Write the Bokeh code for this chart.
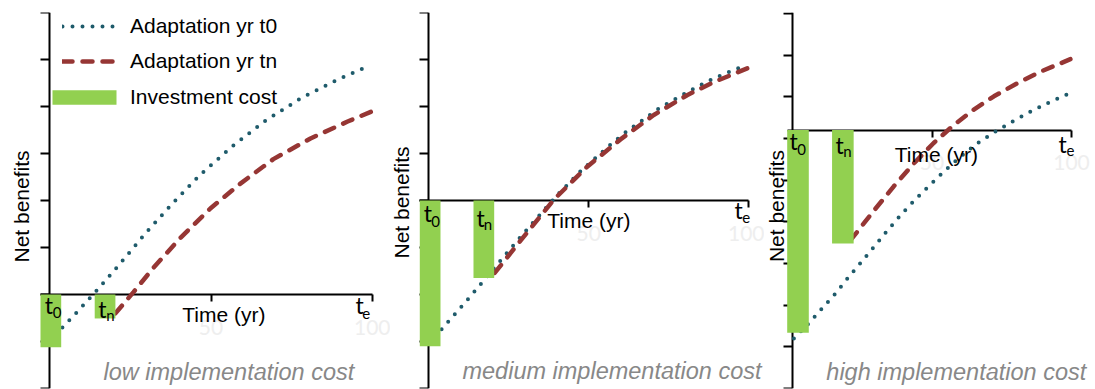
import math
from bokeh.plotting import figure
from bokeh.layouts import row
from bokeh.models import FixedTicker, Range1d, Legend, LegendItem
from bokeh.core.properties import value
from bokeh.embed import file_html
from bokeh.resources import INLINE

# ---------------- data ----------------
# Panel 1: low implementation cost
P1_T0_YR = [4.0, 8.7, 15.2, 21.4, 29.7, 38.1, 46.7, 56.7, 66.9, 77.7, 89.2, 97.8]
P1_T0_NB = [-0.70, -0.36, 0.13, 0.62, 1.30, 1.94, 2.55, 3.16, 3.70, 4.17, 4.57, 4.83]
P1_TN_YR = [20.4, 26.0, 32.2, 40.6, 49.8, 59.1, 69.3, 80.8, 92.3, 100.0]
P1_TN_NB = [-0.40, 0.05, 0.57, 1.21, 1.83, 2.36, 2.88, 3.32, 3.68, 3.90]
P1_BAR_YR = [0.42, 17.2]
P1_BAR_COST = [1.12, 0.51]

# Panel 2: medium implementation cost
P2_T0_YR = [4.0, 8.9, 13.0, 17.2, 21.4, 26.6, 35.9, 40.1, 47.4, 56.8, 62.0, 72.4, 82.8, 89.1, 99.0]
P2_T0_NB = [-2.74, -2.36, -2.04, -1.70, -1.36, -0.94, -0.21, 0.11, 0.62, 1.19, 1.48, 1.98, 2.38, 2.60, 2.88]
P2_TN_YR = [20.6, 28.6, 39.1, 49.5, 59.9, 70.3, 80.7, 89.1, 99.5]
P2_TN_NB = [-1.54, -0.86, 0.02, 0.72, 1.30, 1.82, 2.24, 2.52, 2.81]
P2_BAR_YR = [0.42, 17.2]
P2_BAR_COST = [3.10, 1.65]

# Panel 3: high implementation cost
P3_T0_YR = [0.5, 5.8, 10.6, 15.4, 20.2, 25.0, 29.7, 33.9, 39.3, 44.1, 49.5, 54.8,
            60.2, 66.2, 72.2, 78.7, 85.3, 91.9, 98.5]
P3_T0_NB = [-5.0, -4.64, -4.28, -3.92, -3.52, -3.14, -2.76, -2.42, -2.00, -1.66, -1.30,
            -0.96, -0.64, -0.32, -0.06, 0.20, 0.44, 0.66, 0.86]
P3_TN_YR = [20.8, 23.2, 29.1, 36.3, 43.5, 50.6, 57.8, 65.0, 72.2, 80.5, 88.9, 99.6]
P3_TN_NB = [-2.64, -2.44, -1.94, -1.35, -0.80, -0.31, 0.12, 0.49, 0.81, 1.12, 1.40, 1.70]
P3_BAR_YR = [1.97, 18.05]
P3_BAR_COST = [4.86, 2.72]

X_TICKS = [50, 100]
X_TICK_LABELS = {50: "50", 100: "100"}
PANEL_TITLES = ["low implementation cost", "medium implementation cost", "high implementation cost"]
LEGEND_LABELS = ["Adaptation yr t0", "Adaptation yr tn", "Investment cost"]
Y_LABEL = "Net benefits"
X_LABEL = "Time (yr)"

TEAL = "#1f5b6b"
RED = "#963634"
GREEN = "#92d050"
GREY = "#888888"
FAINT = "#eeeeee"

ARIAL = "Liberation Sans"
CAL = "Lato"
BL = 0.27  # baseline correction (fraction of font size)


def panel(left_px, right_px, axis_px, zero_px, xs, ys, y_lo, y_hi, y_ticks, bar_left,
          t0x, t0y, tnx, tny, barx, barc, bar_px, lab, title):
    """Pixel geometry values are page positions; they only set up the scales."""
    width = right_px - left_px
    x0 = (left_px - axis_px) / xs
    x1 = (right_px - axis_px) / xs
    fx = lambda px: (px - axis_px) / xs
    fy = lambda py: (zero_px - py) / ys

    p = figure(width=width, height=389, output_backend="svg", toolbar_location=None,
               x_range=Range1d(x0, x1), y_range=Range1d(y_lo, y_hi),
               min_border_left=0, min_border_right=0, min_border_top=12, min_border_bottom=1)
    p.outline_line_color = None
    p.grid.visible = False
    p.background_fill_color = "white"
    p.border_fill_color = "white"

    # axes crossing at zero
    p.xaxis.fixed_location = 0
    p.yaxis.fixed_location = 0
    p.xaxis.bounds = (bar_left, 100)
    for ax in (p.xaxis, p.yaxis):
        ax.axis_line_width = 2
        ax.axis_line_color = "black"
        ax.major_tick_line_width = 2
        ax.major_tick_line_color = "black"
        ax.minor_tick_line_width = 2
        ax.minor_tick_line_color = "black"
        ax.major_tick_in = 0
        ax.minor_tick_in = 0
    p.xaxis.ticker = FixedTicker(ticks=X_TICKS)
    p.xaxis.major_label_overrides = X_TICK_LABELS
    p.xaxis.major_tick_out = 7
    p.xaxis.minor_tick_out = 0
    p.xaxis.major_label_text_font = CAL
    p.xaxis.major_label_text_font_size = "21px"
    p.xaxis.major_label_text_color = FAINT
    p.xaxis.major_label_standoff = 18
    # y ticks without labels: minor ticks only
    p.yaxis.ticker = FixedTicker(ticks=[], minor_ticks=y_ticks)
    p.yaxis.minor_tick_out = 9
    p.yaxis.major_tick_out = 0

    r0 = p.line(t0x, t0y, line_color=TEAL, line_width=4, line_dash="0 10", line_cap="round",
                level="annotation")
    rn = p.line(tnx, tny, line_color=RED, line_width=4.5, line_dash="10 10", line_cap="round",
                level="annotation")
    rb = p.vbar(x=barx, width=bar_px / xs, top=0, bottom=[-c for c in barc], fill_color=GREEN,
                line_color=None, level="overlay")

    def txt(px, py, s, font, size, color="black", align="left", style="normal", angle=0.0):
        corr = BL * size
        if angle:
            x, y = fx(px - corr), fy(py)
        else:
            x, y = fx(px), fy(py - corr)
        p.text(x=[x], y=[y], text=[s], text_font=value(font), text_font_size=value(f"{size}px"),
               text_color=color, text_align=align, text_baseline="alphabetic",
               text_font_style=style, angle=angle, level="overlay")

    for (tpx, tpy, spx, spy, sub) in lab["t"]:
        txt(tpx, tpy, "t", CAL, 23)
        txt(spx, spy, sub, CAL, 15)
    txt(*lab["time"], X_LABEL, ARIAL, 21, align="center")
    txt(*lab["title"], title, ARIAL, 23.5, color=GREY, align="center", style="italic")
    txt(*lab["ylab"], Y_LABEL, ARIAL, 21, align="center", angle=math.pi / 2)
    return p, r0, rn, rb


p1, a, b, c = panel(0, 390, 49, 294, 3.23, 47, -2, 6, list(range(-2, 7)), -2.8,
                    P1_T0_YR, P1_T0_NB, P1_TN_YR, P1_TN_NB, P1_BAR_YR, P1_BAR_COST, 20.7,
                    {"t": [(44.3, 311, 52.3, 315.7, "0"), (97.7, 315, 105.7, 318.3, "n"),
                           (355, 311, 361.7, 316.7, "e")],
                     "time": (223.4, 319.3), "title": (228.4, 378.3), "ylab": (27, 206)},
                    PANEL_TITLES[0])

leg_lines = Legend(items=[LegendItem(label=LEGEND_LABELS[0], renderers=[a]),
                          LegendItem(label=LEGEND_LABELS[1], renderers=[b])],
                   location=(62, 315), padding=0, margin=0, spacing=11,
                   glyph_width=55, glyph_height=14, label_standoff=13,
                   label_text_font=ARIAL, label_text_font_size="21px", label_text_color="black",
                   background_fill_alpha=0, border_line_color=None)
leg_bar = Legend(items=[LegendItem(label=LEGEND_LABELS[2], renderers=[c])],
                 location=(44, 279), padding=0, margin=0,
                 glyph_width=80, glyph_height=18, label_standoff=6,
                 label_text_font=ARIAL, label_text_font_size="21px", label_text_color="black",
                 background_fill_alpha=0, border_line_color=None)
p1.add_layout(leg_lines)
p1.add_layout(leg_bar)

p2, _, _, _ = panel(390, 764, 428.3, 201, 3.2, 47, -4, 4, list(range(-4, 5)), -2.8,
                    P2_T0_YR, P2_T0_NB, P2_TN_YR, P2_TN_NB, P2_BAR_YR, P2_BAR_COST, 20.7,
                    {"t": [(423.3, 220, 430.7, 225.7, "0"), (476, 225, 483.3, 228.3, "n"),
                           (734, 216.7, 741.7, 221.7, "e")],
                     "time": (588.3, 226.7), "title": (611.5, 378.3), "ylab": (406.7, 203)},
                    PANEL_TITLES[1])

p3, _, _, _ = panel(764, 1093, 792, 130, 2.79, 41.67, -6.2, 2.82,
                    [round(2.8 - k, 2) for k in range(10)], -1.9,
                    P3_T0_YR, P3_T0_NB, P3_TN_YR, P3_TN_NB, P3_BAR_YR, P3_BAR_COST, 21.6,
                    {"t": [(789, 147.3, 796.7, 153.3, "0"), (835, 150.7, 842.7, 155, "n"),
                           (1058, 150, 1066, 154, "e")],
                     "time": (935.8, 160), "title": (955.8, 378.3), "ylab": (782, 206)},
                    PANEL_TITLES[2])

layout = row(p1, p2, p3)
open("out.html", "w").write(file_html(layout, INLINE))
